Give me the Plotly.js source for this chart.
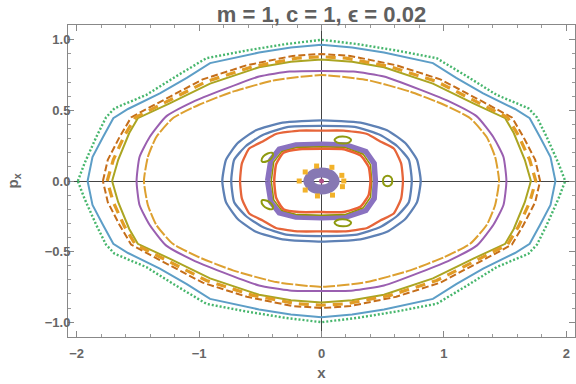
<!DOCTYPE html>
<html>
<head>
<meta charset="utf-8">
<script src="https://cdn.plot.ly/plotly-3.0.1.min.js"></script>
<style>html,body{margin:0;padding:0;background:#fff;}#chart{width:576px;height:384px;}</style>
</head>
<body>
<div id="chart"></div>
<script>
// ---- Data (x, p_x) ----
const greenX = [-1.99,-1.935,-1.84,-1.76,-1.69,-1.43,-1.19,-0.94,-0.615,-0.29,0, 0.29,0.615,0.94,1.19,1.43,1.69,1.76,1.84,1.935,1.99, 1.935,1.84,1.76,1.69,1.43,1.19,0.94,0.615,0.29,0, -0.29,-0.615,-0.94,-1.19,-1.43,-1.69,-1.76,-1.84,-1.935,-1.99];
const greenY = [0,0.125,0.31,0.45,0.515,0.61,0.74,0.87,0.924,0.97,1.0, 0.97,0.924,0.87,0.74,0.61,0.515,0.45,0.31,0.125,0, -0.125,-0.31,-0.45,-0.515,-0.61,-0.74,-0.87,-0.924,-0.97,-1.0, -0.97,-0.924,-0.87,-0.74,-0.61,-0.515,-0.45,-0.31,-0.125,0];

const lblueX = [-1.91,-1.87,-1.785,-1.7,-1.58,-1.32,-1.1,-0.91,-0.51,-0.25,0, 0.25,0.51,0.91,1.1,1.32,1.58,1.7,1.785,1.87,1.91, 1.87,1.785,1.7,1.58,1.32,1.1,0.91,0.51,0.25,0, -0.25,-0.51,-0.91,-1.1,-1.32,-1.58,-1.7,-1.785,-1.87,-1.91];
const lblueY = [0,0.17,0.31,0.445,0.51,0.62,0.73,0.835,0.91,0.945,0.965, 0.945,0.91,0.835,0.73,0.62,0.51,0.445,0.31,0.17,0, -0.17,-0.31,-0.445,-0.51,-0.62,-0.73,-0.835,-0.91,-0.945,-0.965, -0.945,-0.91,-0.835,-0.73,-0.62,-0.51,-0.445,-0.31,-0.17,0];

const brownX = [-1.785,-1.745,-1.65,-1.555,-1.45,-1.32,-0.97,-0.61,-0.235,0, 0.235,0.61,0.97,1.32,1.45,1.555,1.65,1.745,1.785, 1.745,1.65,1.555,1.45,1.32,0.97,0.61,0.235,0, -0.235,-0.61,-0.97,-1.32,-1.45,-1.555,-1.65,-1.745,-1.785];
const brownY = [0,0.15,0.31,0.45,0.5,0.56,0.72,0.82,0.886,0.9, 0.886,0.82,0.72,0.56,0.5,0.45,0.31,0.15,0, -0.15,-0.31,-0.45,-0.5,-0.56,-0.72,-0.82,-0.886,-0.9, -0.886,-0.82,-0.72,-0.56,-0.5,-0.45,-0.31,-0.15,0];

const chainX = [-1.75,-1.7,-1.61,-1.52,-1.28,-0.94,-0.56,-0.2,0, 0.2,0.56,0.94,1.28,1.52,1.61,1.7,1.75, 1.7,1.61,1.52,1.28,0.94,0.56,0.2,0, -0.2,-0.56,-0.94,-1.28,-1.52,-1.61,-1.7,-1.75];
const chainY = [0,0.15,0.32,0.45,0.555,0.705,0.81,0.87,0.88, 0.87,0.81,0.705,0.555,0.45,0.32,0.15,0, -0.15,-0.32,-0.45,-0.555,-0.705,-0.81,-0.87,-0.88, -0.87,-0.81,-0.705,-0.555,-0.45,-0.32,-0.15,0];

const oliveX = [-1.71,-1.66,-1.57,-1.5,-1.24,-0.91,-0.51,-0.25,0, 0.25,0.51,0.91,1.24,1.5,1.57,1.66,1.71, 1.66,1.57,1.5,1.24,0.91,0.51,0.25,0, -0.25,-0.51,-0.91,-1.24,-1.5,-1.57,-1.66,-1.71];
const oliveY = [0,0.15,0.34,0.445,0.55,0.69,0.806,0.845,0.86, 0.845,0.806,0.69,0.55,0.445,0.34,0.15,0, -0.15,-0.34,-0.445,-0.55,-0.69,-0.806,-0.845,-0.86, -0.845,-0.806,-0.69,-0.55,-0.445,-0.34,-0.15,0];

const purpleX = [-1.51,-1.486,-1.404,-1.27,-1.05,-0.81,-0.51,-0.26,0, 0.26,0.51,0.81,1.05,1.27,1.404,1.486,1.51, 1.486,1.404,1.27,1.05,0.81,0.51,0.26,0, -0.26,-0.51,-0.81,-1.05,-1.27,-1.404,-1.486,-1.51];
const purpleY = [0,0.17,0.31,0.456,0.56,0.645,0.74,0.775,0.78, 0.775,0.74,0.645,0.56,0.456,0.31,0.17,0, -0.17,-0.31,-0.456,-0.56,-0.645,-0.74,-0.775,-0.78, -0.775,-0.74,-0.645,-0.56,-0.456,-0.31,-0.17,0];

const goldX = [-1.45,-1.418,-1.35,-1.214,-1.0,-0.724,-0.37,0, 0.37,0.724,1.0,1.214,1.35,1.418,1.45, 1.418,1.35,1.214,1.0,0.724,0.37,0, -0.37,-0.724,-1.0,-1.214,-1.35,-1.418,-1.45];
const goldY = [0,0.17,0.31,0.445,0.54,0.633,0.716,0.75, 0.716,0.633,0.54,0.445,0.31,0.17,0, -0.17,-0.31,-0.445,-0.54,-0.633,-0.716,-0.75, -0.716,-0.633,-0.54,-0.445,-0.31,-0.17,0];

const blueOutX = [-0.81,-0.78,-0.686,-0.535,-0.318,0, 0.318,0.535,0.686,0.78,0.81, 0.78,0.686,0.535,0.318,0, -0.318,-0.535,-0.686,-0.78,-0.81];
const blueOutY = [0,0.15,0.267,0.36,0.413,0.43, 0.413,0.36,0.267,0.15,0, -0.15,-0.267,-0.36,-0.413,-0.43, -0.413,-0.36,-0.267,-0.15,0];

const blueInX = [-0.737,-0.713,-0.617,-0.48,-0.29,0, 0.29,0.48,0.617,0.713,0.737, 0.713,0.617,0.48,0.29,0, -0.29,-0.48,-0.617,-0.713,-0.737];
const blueInY = [0,0.15,0.248,0.326,0.38,0.39, 0.38,0.326,0.248,0.15,0, -0.15,-0.248,-0.326,-0.38,-0.39, -0.38,-0.326,-0.248,-0.15,0];

const redOutX = [-0.665,-0.65,-0.59,-0.48,-0.372,-0.18,0, 0.18,0.372,0.48,0.59,0.65,0.665, 0.65,0.59,0.48,0.372,0.18,0, -0.18,-0.372,-0.48,-0.59,-0.65,-0.665];
const redOutY = [0,0.125,0.23,0.28,0.333,0.357,0.357, 0.357,0.333,0.28,0.23,0.125,0, -0.125,-0.23,-0.28,-0.333,-0.357,-0.357, -0.357,-0.333,-0.28,-0.23,-0.125,0];

const bandX = [-0.44,-0.413,-0.345,-0.21,0,0.2,0.362,0.43,0.44, 0.43,0.362,0.2,0,-0.21,-0.345,-0.413,-0.44];
const bandY = [0,0.15,0.225,0.255,0.26,0.255,0.208,0.125,0, -0.125,-0.208,-0.255,-0.26,-0.255,-0.225,-0.15,0];

const oliveRingX = [-0.41,-0.39,-0.325,-0.2,0,0.19,0.34,0.4,0.41, 0.4,0.34,0.19,0,-0.2,-0.325,-0.39,-0.41];
const oliveRingY = [0,0.135,0.208,0.238,0.243,0.238,0.19,0.115,0, -0.115,-0.19,-0.238,-0.243,-0.238,-0.208,-0.135,0];

const redInX = [-0.386,-0.37,-0.31,-0.18,0,0.18,0.32,0.385,0.4, 0.385,0.32,0.18,0,-0.18,-0.31,-0.37,-0.386];
const redInY = [0,0.12,0.2,0.225,0.228,0.225,0.18,0.1,0, -0.1,-0.18,-0.22,-0.22,-0.22,-0.2,-0.12,0];

const islandX = [0.106,0.125,0.174,0.225,0.242,0.223,0.174,0.125,0.106, null,
                 0.502,0.513,0.54,0.567,0.578,0.567,0.54,0.513,0.502, null,
                 0.106,0.125,0.174,0.225,0.242,0.223,0.174,0.125,0.106, null,
                 -0.49,-0.475,-0.44,-0.405,-0.395,-0.41,-0.445,-0.48,-0.49, null,
                 -0.49,-0.475,-0.44,-0.405,-0.395,-0.41,-0.445,-0.48,-0.49];
const islandY = [0.29,0.308,0.315,0.306,0.29,0.272,0.265,0.274,0.29, null,
                 0,0.027,0.037,0.027,0,-0.027,-0.037,-0.027,0, null,
                 -0.296,-0.278,-0.271,-0.28,-0.296,-0.314,-0.321,-0.312,-0.296, null,
                 0.145,0.175,0.195,0.2,0.19,0.16,0.14,0.135,0.145, null,
                 -0.145,-0.175,-0.195,-0.2,-0.19,-0.16,-0.14,-0.135,-0.145];

const coreX = [-0.108,-0.076,0,0.076,0.108,0.076,0,-0.076,-0.108];
const coreY = [0,0.042,0.06,0.042,0,-0.042,-0.06,-0.042,0];

const dotsX = [-0.04,0.085,-0.133,0.166,-0.182,0.171,-0.133,0.09,-0.033,0.182];
const dotsY = [0.106,0.097,0.064,0.04,0,-0.04,-0.064,-0.1,-0.106,0];

const centerX = [0];
const centerY = [0];

const xTicks = [-2,-1,0,1,2];
const yTicks = [-1.0,-0.5,0.0,0.5,1.0];

// ---- Traces ----
function loop(x, y, color, width, dash, shape, smooth) {
  return {x: x, y: y, type: 'scatter', mode: 'lines', hoverinfo: 'skip', showlegend: false,
          line: {color: color, width: width, dash: dash || 'solid', shape: shape || 'spline', smoothing: smooth === undefined ? 0.5 : smooth}};
}
const traces = [
  loop(greenX, greenY, '#47B66D', 2.4, '2px,2px', 'linear'),
  loop(lblueX, lblueY, '#5D9EC7', 2, 'solid', 'linear'),
  loop(brownX, brownY, '#C56E1A', 2, '7px,3px', 'linear'),
  loop(oliveX, oliveY, '#ABA522', 2, 'solid', 'linear'),
  loop(chainX, chainY, '#E19C24', 3.2, '10px,7px', 'linear'),
  loop(purpleX, purpleY, '#9A5FB0', 2, 'solid'),
  loop(goldX, goldY, '#DDA030', 2, '12px,2px'),
  loop(blueOutX, blueOutY, '#5E81B5', 2.3, 'solid'),
  loop(blueInX, blueInY, '#5E81B5', 2.3, 'solid'),
  loop(redOutX, redOutY, '#E6653A', 2.3, 'solid'),
  loop(bandX, bandY, '#8A72C0', 5.5, 'solid', 'linear'),
  loop(oliveRingX, oliveRingY, '#929600', 1.5, 'solid', 'linear'),
  loop(redInX, redInY, '#EB6235', 2.5, 'solid'),
  loop(islandX, islandY, '#8E9A10', 2, 'solid', 'spline', 0.8),
  loop(coreX, coreY, '#8778B3', 10, 'solid', 'spline', 0.8),
  {x: dotsX, y: dotsY, type: 'scatter', mode: 'markers', hoverinfo: 'skip', showlegend: false,
   marker: {symbol: 'square', size: 5, color: '#F2B22A'}},
  {x: centerX, y: centerY, type: 'scatter', mode: 'markers', hoverinfo: 'skip', showlegend: false,
   marker: {symbol: 'circle', size: 5, color: '#B0508A'}}
];

const axisFont = {family: 'Liberation Sans, Arial, sans-serif', size: 13, color: '#666', weight: 'bold'};
const layout = {
  width: 576, height: 384,
  margin: {l: 68, r: 1, t: 25, b: 47, pad: 0},
  paper_bgcolor: '#fff', plot_bgcolor: '#fff',
  title: {text: 'm = 1, c = 1, \u03F5 = 0.02', x: 0.5, xref: 'paper', xanchor: 'center',
          y: 0.964, yref: 'container', yanchor: 'middle',
          font: {family: 'Liberation Sans, Arial, sans-serif', size: 22, color: '#606060', weight: 'bold'}},
  xaxis: {
    range: [-2.07, 2.07], tickvals: xTicks, ticktext: xTicks.map(v => v < 0 ? '\u2212' + Math.abs(v) : String(v)),
    ticks: 'inside', ticklen: 6, tickwidth: 1, tickcolor: '#888',
    minor: {dtick: 0.2, tick0: 0, ticks: 'inside', ticklen: 3, tickcolor: '#999', tickwidth: 1},
    showline: true, linecolor: '#888', linewidth: 1, mirror: 'allticks',
    showgrid: false, zeroline: true, zerolinecolor: '#444', zerolinewidth: 1,
    tickfont: axisFont, ticklabelstandoff: 4,
    title: {text: 'x', font: {family: 'Liberation Sans, Arial, sans-serif', size: 15, color: '#666', weight: 'bold'}, standoff: 7},
    automargin: false
  },
  yaxis: {
    range: [-1.105, 1.105], tickvals: yTicks, ticktext: yTicks.map(v => (v < 0 ? '\u2212' : '') + Math.abs(v).toFixed(1)),
    ticks: 'inside', ticklen: 6, tickwidth: 1, tickcolor: '#888',
    minor: {dtick: 0.1, tick0: 0, ticks: 'inside', ticklen: 3, tickcolor: '#999', tickwidth: 1},
    showline: true, linecolor: '#888', linewidth: 1, mirror: 'allticks',
    showgrid: false, zeroline: true, zerolinecolor: '#444', zerolinewidth: 1,
    tickfont: axisFont, ticklabelstandoff: -6,
    title: {text: 'p<sub>x</sub>', font: {family: 'Liberation Sans, Arial, sans-serif', size: 15, color: '#666', weight: 'bold'}, standoff: 22},
    automargin: false
  }
};
Plotly.newPlot('chart', traces, layout, {staticPlot: true, displayModeBar: false});
</script>
</body>
</html>
